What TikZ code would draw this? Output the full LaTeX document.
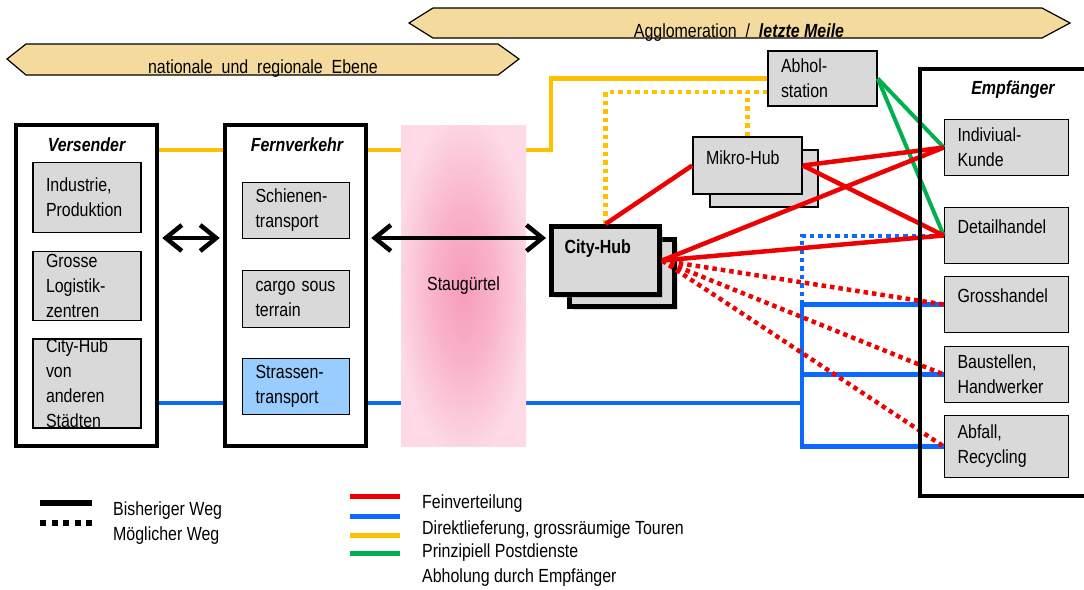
\documentclass[tikz,border=0pt]{standalone}
\usepackage{fontspec}
\setmainfont[FakeStretch=0.84]{Liberation Sans}
\usetikzlibrary{arrows.meta,calc,shadows}
\definecolor{fvred}{RGB}{236,0,0}
\definecolor{dlblue}{RGB}{12,104,255}
\definecolor{pdyellow}{RGB}{255,192,0}
\definecolor{abgreen}{RGB}{0,176,80}
\definecolor{boxgrey}{RGB}{217,217,217}
\definecolor{bannerfill}{RGB}{244,219,157}
\definecolor{roadblue}{RGB}{153,204,255}
\definecolor{staucore}{RGB}{247,156,188}
\definecolor{staurim}{RGB}{253,218,229}
\pgfdeclareradialshading{staublur}{\pgfpoint{0bp}{0bp}}{%
  color(0bp)=(staucore); color(12bp)=(staucore!65!staurim);
  color(27bp)=(staurim); color(50bp)=(staurim)}

\begin{document}
\begin{tikzpicture}[x=1pt, y=-1pt,
  txt/.style={font=\fontsize{19}{25}\selectfont},
  boldtxt/.style={font=\fontsize{19}{25}\selectfont\bfseries},
  heading/.style={font=\fontsize{19}{25}\selectfont\bfseries\itshape},
  panel/.style={draw=black, line width=4.5pt, fill=white, inner sep=0pt},
  item/.style={draw=black, line width=1.5pt, fill=boxgrey, inner xsep=13pt, inner ysep=0pt, align=left, txt},
  hub/.style={item, line width=5pt, drop shadow={shadow xshift=3pt, shadow yshift=-3pt, opacity=0.3}},
  banner/.style={draw=black, line width=1.2pt, fill=bannerfill},
  flow/.style={line width=4.5pt},
  dotline/.style={line width=4.5pt, dash pattern=on 4.5pt off 4pt},
  twoway/.style={draw=black, line width=4.5pt,
    {Straight Barb[length=16pt,width=26pt]}-{Straight Barb[length=16pt,width=26pt]},
    shorten <=3pt, shorten >=3pt},
  legendtxt/.style={txt, anchor=west, inner sep=0pt},
]
\useasboundingbox (0,0) rectangle (1084,589);
\begin{scope}
\clip (0,0) rectangle (1084,589);

% level banners
\draw[banner] (409,23) -- (433,8) -- (1042,8) -- (1070,23) -- (1042,38) -- (433,38) -- cycle;
\node[txt, anchor=base, inner sep=0pt] (agglo) at (739,37) {Agglomeration\ \ /\ \ \textbf{\textit{letzte Meile}}};
\draw[banner] (7,59) -- (26,44) -- (498,44) -- (519,59) -- (498,75) -- (26,75) -- cycle;
\node[txt, anchor=base, inner sep=0pt] (ebene) at (263,73) {nationale\ \ und\ \ regionale\ \ Ebene};

% helper rows
\coordinate (ylwrow) at (0,150);
\coordinate (bluerow) at (0,403);
\coordinate (arrowrow) at (0,238);
\coordinate (ylwturn) at (551,150);
\coordinate (bus) at (802,403);

% shippers
\node[panel, minimum width=141pt, minimum height=321pt] (vers) at (86.5,285.5) {};
\node[heading] (vers-t) at (86.5,145) {Versender};
\node[item, text width=82pt, minimum height=70pt] (industrie) at (87,197.5) {Industrie,\\Produktion};
\node[item, text width=82pt, minimum height=69pt] (logistik) at (87,286) {Grosse\\Logistik-\\zentren};
\node[item, text width=82pt, minimum height=88pt] (andere) at (87,383.5) {City-Hub\\von\\anderen\\Städten};

% long-distance transport
\node[panel, minimum width=141pt, minimum height=321pt] (fern) at (295.5,285.5) {};
\node[heading] (fern-t) at (297,145) {Fernverkehr};
\node[item, text width=81pt, minimum height=56pt] (schiene) at (296,210.5) {Schienen-\\transport};
\node[item, text width=81pt, minimum height=57pt] (cargo) at (296,299) {cargo sous\\terrain};
\node[item, fill=roadblue, text width=81pt, minimum height=56pt] (strasse) at (296,386.5) {Strassen-\\transport};

% receivers
\node[item, text width=98pt, minimum height=56pt] (indiv) at (1006.5,147.5) {Indiviual-\\Kunde};
\node[item, text width=98pt, minimum height=56pt] (detail) at (1006.5,235.5) {Detailhandel\\[-8pt]\mbox{}};
\node[item, text width=98pt, minimum height=56pt] (grossh) at (1006.5,304.5) {Grosshandel\\[-8pt]\mbox{}};
\node[item, text width=98pt, minimum height=56pt] (baust) at (1006.5,374.5) {Baustellen,\\Handwerker};
\node[item, text width=98pt, minimum height=62pt] (abfall) at (1006.5,446.5) {Abfall,\\Recycling};

% pick-up station and hubs
\node[item, text width=83pt, minimum height=55pt] (abhol) at (822.5,78.5) {Abhol-\\station};
\node[item, minimum width=108pt, minimum height=57pt] (mikroback) at (764,178.5) {};
\node[item, text width=83pt, minimum height=57pt] (mikro) at (747.5,165.5) {Mikro-Hub\\[-10pt]\mbox{}};
\node[hub, minimum width=105pt, minimum height=67pt] (cityback) at (622,273) {};
\node[hub, boldtxt, text width=82pt, minimum height=68pt] (cityhub) at (605.5,260.5) {City-Hub\\[2pt]\mbox{}};

% main routes passing behind the congestion belt
\draw[flow, pdyellow] (vers.east |- ylwrow) -- (fern.west |- ylwrow);
\draw[flow, pdyellow] (fern.east |- ylwrow) -- (ylwturn) |- (abhol.west);
\draw[flow, dlblue] (vers.east |- bluerow) -- (fern.west |- bluerow);
\draw[flow, dlblue] (fern.east |- bluerow) -- (bus);

% congestion belt
\node[txt, minimum width=125pt, minimum height=321pt, shading=staublur, shade] (stau) at (463.5,285.5) {Staugürtel};

% existing routes
\draw[twoway] (vers.east |- arrowrow) -- (fern.west |- arrowrow);
\draw[twoway] (fern.east |- arrowrow) -- (cityhub.west |- arrowrow);

% direct delivery to receivers
\draw[flow, dlblue] (grossh.west) -- (grossh.west -| bus) -- (abfall.west -| bus) -- (abfall.west);
\draw[flow, dlblue] (baust.west -| bus) -- (baust.west);
\draw[dotline, line width=4pt, dlblue] (grossh.west -| bus) -- (detail.west -| bus) -- (detail.west);

% pick-up by receiver
\coordinate (pickrow) at ($(abhol.west)+(0,13.5)$);
\draw[dotline, pdyellow] (cityhub.north) |- (pickrow);
\draw[dotline, pdyellow] (mikro.north) -- (mikro.north |- pickrow);

% postal services
\draw[flow, line width=4pt, abgreen] (abhol.east) -- (indiv.west);
\draw[flow, line width=4pt, abgreen] (abhol.east) -- (detail.west);

% fine distribution
\draw[flow, fvred] (cityhub.north) -- (mikro.west);
\draw[flow, fvred] (mikro.east) -- (indiv.west);
\draw[flow, fvred] (mikro.east) -- (detail.west);
\draw[flow, fvred] (cityhub.east) -- (indiv.west);
\draw[flow, fvred] (cityhub.east) -- (detail.west);
\draw[dotline, fvred] (cityhub.east) -- (grossh.west);
\draw[dotline, fvred] (cityhub.east) -- (baust.west);
\draw[dotline, fvred] (cityhub.east) -- (abfall.west);

% receivers frame
\node[draw=black, line width=4.5pt, inner sep=0pt, minimum width=172pt, minimum height=427pt] (empf) at (1006,282.5) {};
\node[heading] (empf-t) at (1013,90) {Empfänger};

% legend
\draw[line width=5.5pt] (40,503) -- (92,503);
\draw[line width=5.5pt, dash pattern=on 6pt off 5.5pt] (40,523) -- (92,523);
\node[legendtxt] (leg-bisher) at (113,511) {Bisheriger Weg};
\node[legendtxt] (leg-moegl) at (113,536) {Möglicher Weg};
\draw[line width=5pt, fvred] (350,496) -- (400,496);
\draw[line width=5pt, dlblue] (350,516) -- (400,516);
\draw[line width=5pt, pdyellow] (350,535) -- (400,535);
\draw[line width=5pt, abgreen] (350,553) -- (400,553);
\node[legendtxt] (leg-fein) at (422,504) {Feinverteilung};
\node[legendtxt] (leg-direkt) at (422,530) {Direktlieferung, grossräumige Touren};
\node[legendtxt] (leg-post) at (422,553) {Prinzipiell Postdienste};
\node[legendtxt] (leg-abhol) at (422,578) {Abholung durch Empfänger};
\end{scope}
\end{tikzpicture}
\end{document}
